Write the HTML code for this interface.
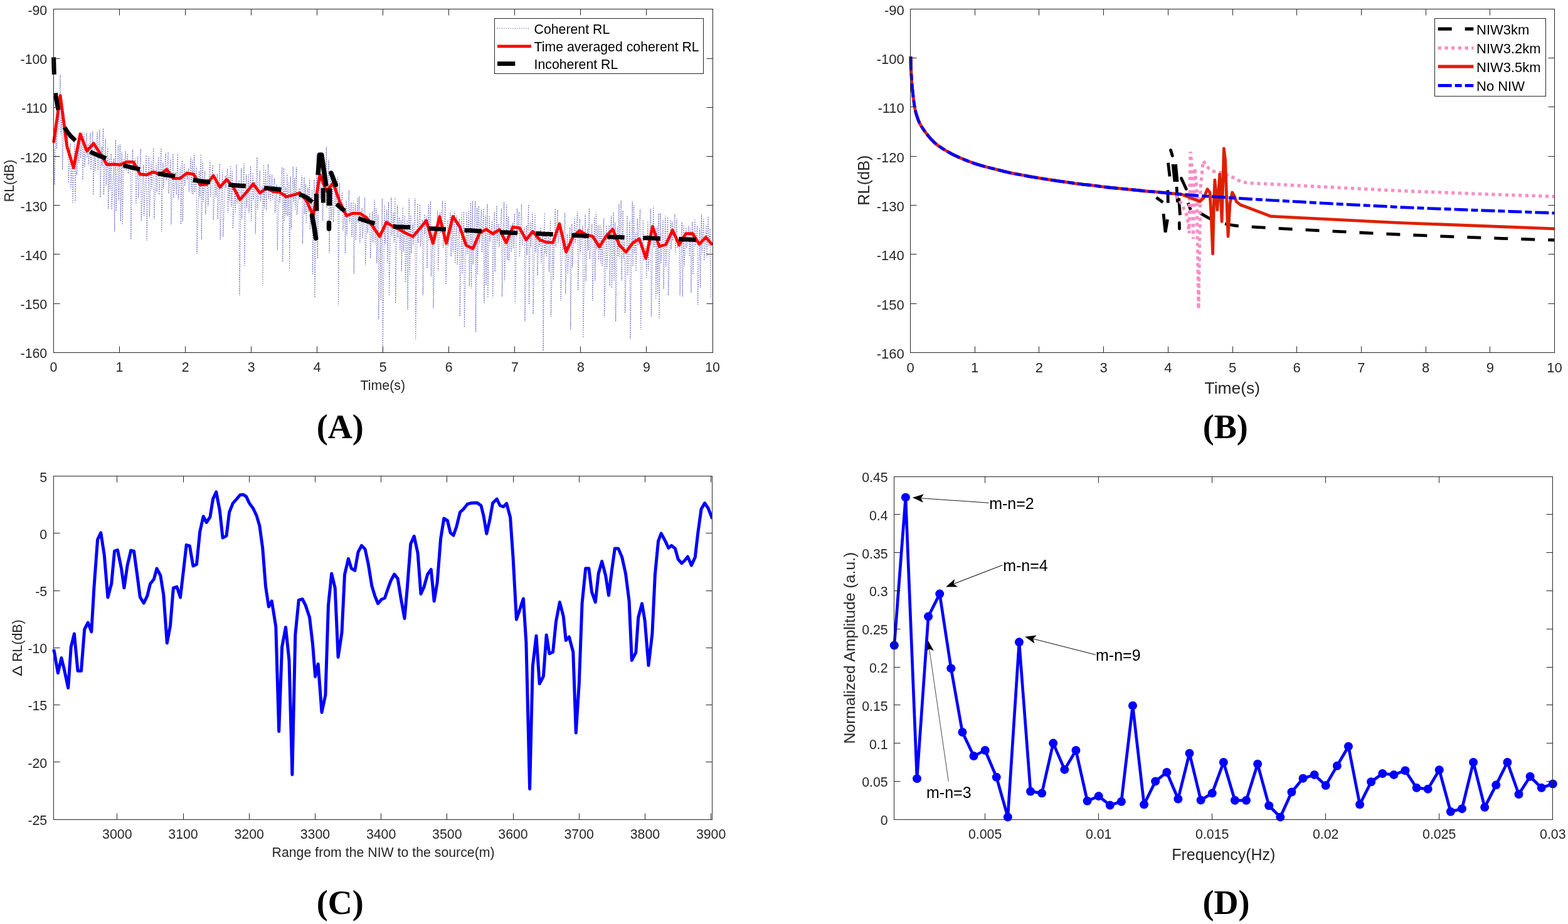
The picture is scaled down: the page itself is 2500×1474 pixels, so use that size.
<!DOCTYPE html><html><head><meta charset="utf-8"><title>Figure</title>
<style>html,body{margin:0;padding:0;background:#fff;}body{width:2500px;height:1474px;overflow:hidden;}svg{display:block;}</style>
</head><body>
<svg width="2500" height="1474" viewBox="0 0 2500 1474">
<rect width="2500" height="1474" fill="#fff"/>
<defs><clipPath id="clipA"><rect x="81.5" y="14.9" width="1054.5" height="547.4"/></clipPath></defs>
<g clip-path="url(#clipA)">
<polyline points="86.1,238.8 87,294.93 89.52,190.38 90.42,237.35 93.05,159.46 93.95,208.25 96.12,118.91 97.02,213.56 98.61,166.81 99.51,270.66 102.36,181.98 103.26,224 104.9,203.98 105.8,228.42 108.32,218.21 109.22,291.97 112.12,228.29 113.02,301.39 115.14,255.5 116.04,325 119.09,223.78 119.99,321 121.65,234.61 122.55,279.06 124.9,226.78 125.8,259.24 127.76,214.08 128.66,252.14 131.03,210.97 131.93,286.81 134.03,210.82 134.93,266.43 138.1,211.21 139,251.04 140.63,229.54 141.53,263.52 144.01,211.56 144.91,270.61 147.83,209.19 148.73,311 150.82,228.03 151.72,274.84 155.17,210.39 156.07,271.51 158.98,206.41 159.88,315 161.95,233.67 162.85,265.47 164.51,204.56 165.41,311 168.23,220.89 169.13,295.72 171.7,234.73 172.6,333.41 174.44,252.59 175.34,303.54 177.25,245.22 178.15,333.97 181.74,252.83 182.64,370 184.37,223.1 185.27,336.59 188.32,231.88 189.22,319.46 191.37,230.6 192.27,353 194.27,243.57 195.17,358.58 197.29,254.63 198.19,268.88 200.28,240.89 201.18,272.35 203.49,244.71 204.39,277.12 207.85,255.56 208.75,382 211.54,238.32 212.44,267.18 215.94,253.16 216.84,325.62 219.74,249.94 220.64,315.61 224.34,237.48 225.24,353 228.72,262.92 229.62,344.09 233.13,247.28 234.03,384 237.45,249.21 238.35,346.19 241.11,256.52 242.01,301.22 244.85,236.28 245.75,348.96 249.18,260.75 250.08,305.87 252.86,250.42 253.76,310.9 256.91,236.39 257.81,370 259.82,259.5 260.72,301.18 264.24,243.66 265.14,288.61 268.13,242.81 269.03,308.6 271.99,252.71 272.89,358.23 275.85,245.18 276.75,316.01 280.26,274.72 281.16,310.19 283.36,243.82 284.26,317.81 287.63,267.31 288.53,358 290.4,255.82 291.3,353 293.71,261.44 294.61,296.94 297.95,272.17 298.85,286.57 300.42,268.67 301.32,305.89 304.08,250.46 304.98,307.94 306.78,255.41 307.68,310.3 309.7,246.28 310.6,306.69 313.08,265.79 313.98,405 317.59,272.97 318.49,314.86 320.38,246.09 321.28,382 323.18,257.4 324.08,323.4 326.72,272.84 327.62,341.92 330.87,284.38 331.77,328.26 334.85,256.49 335.75,313.82 339.26,263.03 340.16,350.86 343.41,280.92 344.31,313.29 346.26,277.23 347.16,349.6 350.24,261.22 351.14,382.53 354.79,271.99 355.69,378 359.19,280.33 360.09,299.41 362.56,269.25 363.46,339.68 365.02,279.79 365.92,322.58 367.8,264.02 368.7,330.1 370.53,272.11 371.43,364.71 374.45,295.48 375.35,339.67 377.04,262.43 377.94,324.75 381.04,287.39 381.94,471 384.67,268.33 385.57,349.53 389.05,260.83 389.95,424 392.61,278.03 393.51,331.27 396.11,277.07 397.01,339.98 399.65,264.85 400.55,353.83 403.13,275.44 404.03,318.34 406.44,289.7 407.34,373.04 409.88,250.78 410.78,334.09 414.26,271.62 415.16,321.39 418.02,296.06 418.92,456 420.47,262.51 421.37,332.02 423.58,270.43 424.48,335.82 427.59,261.88 428.49,316.83 430.42,278.06 431.32,322.05 433.73,278.79 434.63,318.63 437.52,284.23 438.42,339.28 441.27,294.63 442.17,399 445.45,297.23 446.35,324.24 449.88,266.65 450.78,417.9 452.58,267.92 453.48,352.79 455.19,298.34 456.09,344.56 457.87,276.44 458.77,344.52 460.71,290.46 461.61,429 463.36,281.03 464.26,364.8 467.27,265.74 468.17,322.25 469.75,282.97 470.65,335.4 472.48,266.75 473.38,342.75 477.05,300.12 477.95,318.07 481.55,280.15 482.45,389 484.97,282.78 485.87,341.82 487.4,293.9 488.3,356.74 490.8,299.22 491.7,338.64 493.57,285.16 494.47,365.8 497.73,302.66 498.63,438.15 501.02,286.53 501.92,475 505.19,245.2 506.09,412.74 509.3,266.83 510.2,317.74 513.64,263.35 514.54,352.38 516.93,270.08 517.83,314.27 520.36,234.66 521.26,331.58 524.13,255.11 525.03,403 527.28,278.37 528.18,350.65 530.53,289.68 531.43,354.23 534.61,297.82 535.51,328.23 538.64,282.48 539.54,488 541.47,291.9 542.37,336.93 545.86,306.46 546.76,367.66 549.51,333.05 550.41,404.54 552.07,318.64 552.97,375.39 556.52,303.28 557.42,355.63 560.01,322.57 560.91,377.7 563.34,320.55 564.24,437 566.37,325.46 567.27,383.06 570.34,315.66 571.24,355.65 572.84,312.87 573.74,387.85 577.21,331.79 578.11,380.27 581.69,315.07 582.59,422.85 585.14,344.17 586.04,372.09 589.6,339.81 590.5,412 593.8,337.18 594.7,387.27 597.2,318.9 598.1,389.26 599.87,332.01 600.77,419.77 602.85,342 603.75,509 606.42,368.7 607.32,479.27 609.34,316.7 610.24,561 613.12,326.73 614.02,389.44 616.76,334.39 617.66,418.96 619.58,322.18 620.48,471.83 623.91,314.42 624.81,375.84 627.25,338.8 628.15,386.02 629.81,314.82 630.71,484 633.59,327.15 634.49,379.02 636.75,346.52 637.65,399.5 639.41,350.83 640.31,432.18 642.28,329.75 643.18,401.48 645.5,343.79 646.4,450.49 649.1,351.13 650,494 652.31,316.2 653.21,439.1 654.9,343.07 655.8,404.16 657.95,356.8 658.85,391.44 661.81,316.17 662.71,543 665.74,324.48 666.64,387.44 669.74,326.54 670.64,393.24 673.39,350.62 674.29,471 676.75,341.92 677.65,373.16 680.03,345.73 680.93,428.05 683.23,325.77 684.13,383.89 686.48,320.65 687.38,440.95 690.07,367.89 690.97,492 694.14,360.35 695.04,381.67 697.67,335.99 698.57,432.36 701.5,339.26 702.4,372.44 705.64,320.34 706.54,394.67 710.02,321.01 710.92,454 714.06,351.08 714.96,392.72 718.14,336.28 719.04,409.39 721.28,344.64 722.18,401.17 724.87,336.9 725.77,420.62 728.17,343.86 729.07,422.8 732.34,348.65 733.24,505 736.15,339.53 737.05,437.03 739.48,337.28 740.38,522 744.06,338.08 744.96,406.05 747.39,333.56 748.29,457.04 750.47,322.99 751.37,459.85 753.27,320.75 754.17,421.78 757.67,320.51 758.57,530 760.55,331.15 761.45,438.19 763.44,328.41 764.34,387.89 767.5,334.22 768.4,402.82 770.96,332.58 771.86,483.15 774.11,343.64 775.01,455.41 777,325.13 777.9,475.07 780.25,343.81 781.15,385.4 784.82,350.99 785.72,475 788.26,337.55 789.16,433.46 792,328.05 792.9,386.66 794.97,356.9 795.87,394.24 799.55,332.61 800.45,473 803.65,322.04 804.55,448.53 807.86,325.66 808.76,414.82 810.47,344.97 811.37,415.88 814.16,358.92 815.06,402.27 817.48,355.41 818.38,395.63 820.34,340.74 821.24,484 824.57,332.29 825.47,373.53 827.64,338.22 828.54,409.81 831.55,325.61 832.45,391.38 836.08,362.76 836.98,513 839.31,359.81 840.21,406.99 842.72,326.11 843.62,485.73 845.57,352.11 846.47,393.44 849.16,339 850.06,501 853.02,340.07 853.92,403.46 856.15,370.57 857.05,439.92 859.28,368.42 860.18,393.41 861.89,362.58 862.79,421 865.17,371.03 866.07,560 868.07,339.5 868.97,405.56 870.63,376.89 871.53,409.71 874.45,369.09 875.35,434.05 877.58,351.21 878.48,505 881.52,380.29 882.42,446.37 885.26,332.92 886.16,394.29 889.09,334.73 889.99,388.4 893.23,354.18 894.13,480 897.31,370.48 898.21,398.3 900.82,339.3 901.72,468.94 904.35,373.54 905.25,436.87 908.83,363.06 909.73,526 911.77,357.48 912.67,426.66 916.21,345.92 917.11,387.39 920.75,336.87 921.65,463.61 924.39,349.63 925.29,403.56 928.97,360.31 929.87,539 933.18,341.42 934.08,448.29 936.85,363.53 937.75,399.61 939.41,332.03 940.31,413.39 943.88,356.89 944.78,480 947.9,346.28 948.8,447.87 950.34,338.41 951.24,397.84 953.59,358.87 954.49,414.29 956.57,359.14 957.47,419.62 959.05,362.79 959.95,425.2 962.77,348.32 963.67,505 966.69,359.22 967.59,428.36 971.28,359.24 972.18,456.16 974.63,344.57 975.53,459.6 978.19,338.59 979.09,448.14 980.71,354.97 981.61,513 984.42,361.63 985.32,409.45 986.98,324.85 987.88,412.77 990.25,319.8 991.15,447.49 993.17,335.84 994.07,412.03 995.73,383.83 996.63,499.64 1000.03,343.75 1000.93,439.5 1004.07,352.57 1004.97,541 1008.22,320.73 1009.12,424.94 1010.62,327.83 1011.52,404.27 1013.16,370.47 1014.06,432.76 1016.34,348.61 1017.24,391.74 1020.72,333.59 1021.62,526 1025.27,350.44 1026.17,415.37 1029.7,393.36 1030.6,444.67 1032.88,352.52 1033.78,432.16 1037.47,333.21 1038.37,505 1041.8,328.48 1042.7,394.89 1044.89,365.28 1045.79,477.19 1047.59,361.49 1048.49,469.22 1050.16,340.74 1051.06,509 1052.99,339.85 1053.89,420.49 1057.13,350.75 1058.03,461.14 1060.83,344.37 1061.73,426.06 1064.7,346.36 1065.6,471 1069.26,350.84 1070.16,397.73 1071.76,353.73 1072.66,383.96 1075.93,341.13 1076.83,405.86 1078.87,348.73 1079.77,395.33 1083.24,384.66 1084.14,471 1087.29,354.12 1088.19,473.33 1090.09,358.79 1090.99,424.73 1093.94,362.96 1094.84,395.77 1098.2,360.31 1099.1,409.15 1100.98,363.21 1101.88,467 1103.9,353.7 1104.8,438 1108.04,349.12 1108.94,393.33 1111.71,359.87 1112.61,486 1115.69,364.5 1116.59,459.19 1118.42,342.02 1119.32,406.67 1121.79,349.73 1122.69,415.49 1126.19,359.57 1127.09,411.27 1129.11,345.2 1130.01,392.15 1132.2,364.91 1133.1,475" fill="none" stroke="#4040b6" stroke-width="1.05" stroke-dasharray="1.2 2.35"/>
<polyline points="85.5,227.6 96.11,152.3 106.72,233.5 117.33,267.5 127.94,213.8 138.56,241.2 149.17,228.6 159.78,245 170.39,262.5 181,262 191.61,262.9 202.22,258.2 212.83,258.7 223.44,278 234.06,278.8 244.67,274.2 255.28,278 265.89,270.4 276.5,284.7 287.11,284.7 297.72,276.3 308.33,277.6 318.94,294.8 329.56,294 340.17,280.1 350.78,298.6 361.39,286.4 372,298.6 382.61,318.5 393.22,306.5 403.83,293.3 414.44,307.9 425.06,300 435.67,305.5 446.28,306.9 456.89,314 467.5,311 478.11,307.9 488.72,320.1 499.33,344 509.94,278.9 520.56,304.9 531.17,291.9 541.78,322.3 552.39,344 563,340.3 573.61,340.3 584.22,347.1 594.83,362 605.44,377.3 616.06,354.6 626.67,361.5 637.28,366.4 647.89,372.3 658.5,377.3 669.11,364.7 679.72,352.1 690.33,388.2 700.94,345.8 711.56,388.2 722.17,345.4 732.78,361.3 743.39,391.6 754,396.6 764.61,372 775.22,365.8 785.83,372.9 796.44,366.2 807.06,387.2 817.67,362.4 828.28,363.7 838.89,382.6 849.5,369.2 860.11,382.2 870.72,386.4 881.33,387.2 891.94,357 902.56,401.9 913.17,378.8 923.78,367.9 934.39,374.6 945,377.1 955.61,393.9 966.22,377 976.83,365.7 987.44,390.8 998.06,402.2 1008.67,387.8 1019.28,380.9 1029.89,412.1 1040.5,361.2 1051.11,393.1 1061.72,390 1072.33,367.2 1082.94,390.8 1093.56,372.6 1104.17,372.6 1114.78,389.3 1125.39,378.6 1136,390.8" fill="none" stroke="#ff0000" stroke-width="4.8" stroke-linejoin="round"/>
<polyline points="85.6,91.4 85.72,96.2 85.88,103.14 86.08,110.6 86.3,117 86.55,121.9 86.82,126.16 87.12,130.09 87.4,134 87.65,137.91 87.89,141.69 88.15,145.37 88.5,149 88.95,152.64 89.48,156.25 90.04,159.73 90.6,163 91.1,165.84 91.57,168.38 92.11,170.97 92.8,174 93.66,177.7 94.63,181.81 95.74,186.02 97,190 98.44,193.71 100.04,197.31 101.75,200.76 103.5,204 105.26,206.99 107.06,209.78 108.95,212.42 111,215 113.21,217.49 115.56,219.87 118.02,222.21 120.6,224.6 123.29,227.1 126.1,229.66 129.01,232.16 132,234.5 135.12,236.67 138.35,238.72 141.61,240.63 144.8,242.4 147.9,243.99 150.95,245.42 153.98,246.74 157,248 159.97,249.14 162.89,250.17 165.86,251.21 169,252.4 172.33,253.82 175.8,255.38 179.37,256.98 183,258.5 186.77,259.96 190.68,261.41 194.54,262.78 198.2,264 201.55,265.03 204.71,265.92 207.81,266.72 211,267.5 214.3,268.24 217.64,268.92 221.04,269.59 224.5,270.3 228.06,271.06 231.71,271.85 235.38,272.66 239,273.5 242.56,274.4 246.09,275.35 249.6,276.28 253.1,277.1 256.59,277.8 260.07,278.41 263.54,278.97 267,279.5 270.45,279.96 273.88,280.35 277.32,280.77 280.8,281.3 284.34,282.01 287.91,282.84 291.48,283.7 295,284.5 298.45,285.23 301.85,285.93 305.23,286.59 308.6,287.2 311.94,287.76 315.26,288.28 318.59,288.76 322,289.2 325.5,289.57 329.07,289.89 332.68,290.21 336.3,290.6 339.95,291.1 343.63,291.66 347.32,292.25 351,292.8 354.68,293.33 358.38,293.86 362.05,294.36 365.7,294.8 369.33,295.16 372.94,295.46 376.51,295.73 380,296 383.34,296.25 386.57,296.48 389.81,296.71 393.2,297 396.77,297.36 400.44,297.77 404.2,298.2 408,298.6 411.92,298.97 415.94,299.32 419.92,299.66 423.7,300 427.2,300.32 430.52,300.63 433.75,300.95 437,301.3 440.22,301.65 443.39,302.01 446.62,302.44 450,303 453.66,303.74 457.5,304.61 461.34,305.55 465,306.5 468.46,307.44 471.81,308.41 475.01,309.4 478,310.4 480.71,311.32 483.19,312.19 485.57,313.2 488,314.5 490.73,316.41 493.62,318.76 496.2,320.97 498,322.5" fill="none" stroke="#000" stroke-width="7" stroke-dasharray="27.5 29.5" stroke-dashoffset="0"/>
<polyline points="549.5,332.3 551.38,333.91 554.06,336.22 557.09,338.75 560,341 562.67,342.91 565.34,344.71 568.1,346.38 571,347.9 574.11,349.23 577.38,350.39 580.7,351.46 584,352.5 587.23,353.53 590.44,354.5 593.68,355.43 597,356.3 600.42,357.13 603.9,357.91 607.43,358.64 611,359.3 614.31,359.89 617.47,360.41 621.04,360.88 625.6,361.3 631.47,361.64 638.3,361.9 645.6,362.16 652.9,362.5 660.22,362.96 667.77,363.5 675.33,364.04 682.7,364.5 689.75,364.85 696.63,365.13 703.48,365.4 710.5,365.7 717.84,366.06 725.36,366.44 732.81,366.83 739.9,367.2 746.34,367.53 752.34,367.82 758.43,368.14 765.1,368.5 772.71,368.95 780.92,369.45 789.19,369.95 797,370.4 804.09,370.78 810.78,371.11 817.41,371.42 824.3,371.7 831.63,371.95 839.2,372.16 846.77,372.36 854.1,372.6 861.06,372.87 867.8,373.17 874.51,373.48 881.4,373.8 888.55,374.14 895.84,374.49 903.17,374.85 910.4,375.2 917.47,375.53 924.46,375.86 931.47,376.18 938.6,376.5 945.94,376.83 953.43,377.17 960.89,377.5 968.2,377.8 975.24,378.06 982.13,378.28 988.99,378.49 996,378.7 1003.23,378.9 1010.6,379.09 1017.97,379.29 1025.2,379.5 1032.22,379.74 1039.1,379.99 1045.98,380.25 1053,380.5 1060.24,380.75 1067.62,381.01 1074.99,381.26 1082.2,381.5 1089.2,381.73 1096.07,381.96 1102.86,382.18 1109.6,382.4 1116.89,382.65 1124.51,382.91 1131.28,383.14 1136,383.3" fill="none" stroke="#000" stroke-width="7" stroke-dasharray="27.5 29.5" stroke-dashoffset="29.93"/>
<polyline points="497.5,343.5 501.2,364 503.6,380" fill="none" stroke="#000" stroke-width="7.5" stroke-linecap="round" stroke-linejoin="round"/>
<polyline points="504.9,336.5 504.4,309" fill="none" stroke="#000" stroke-width="7" stroke-linecap="butt" stroke-linejoin="round"/>
<polyline points="507,279 509.6,247 512.8,247 520,297" fill="none" stroke="#000" stroke-width="7.5" stroke-linecap="butt" stroke-linejoin="round"/>
<polyline points="509.5,262 511,248" fill="none" stroke="#000" stroke-width="9" stroke-linecap="butt" stroke-linejoin="round"/>
<polyline points="515.2,300 515.4,323.5" fill="none" stroke="#000" stroke-width="7" stroke-linecap="butt" stroke-linejoin="round"/>
<polyline points="524.9,300.5 525,328" fill="none" stroke="#000" stroke-width="9" stroke-linecap="butt" stroke-linejoin="round"/>
<polyline points="524.5,355.5 524.5,365" fill="none" stroke="#000" stroke-width="7.5" stroke-linecap="round" stroke-linejoin="round"/>
<polyline points="528,276 535.2,295" fill="none" stroke="#000" stroke-width="7.5" stroke-linecap="round" stroke-linejoin="round"/>
<polyline points="536.5,325.5 549.5,336.5" fill="none" stroke="#000" stroke-width="7" stroke-linecap="butt" stroke-linejoin="round"/>
</g>
<rect x="85.5" y="14.5" width="1051" height="548" fill="none" stroke="#262626" stroke-width="1"/>
<path d="M190.5 562.5V552.5M190.5 14.5V24.5M295.5 562.5V552.5M295.5 14.5V24.5M400.5 562.5V552.5M400.5 14.5V24.5M505.5 562.5V552.5M505.5 14.5V24.5M610.5 562.5V552.5M610.5 14.5V24.5M715.5 562.5V552.5M715.5 14.5V24.5M820.5 562.5V552.5M820.5 14.5V24.5M925.5 562.5V552.5M925.5 14.5V24.5M1030.5 562.5V552.5M1030.5 14.5V24.5M85.5 93.5H95.5M1136.5 93.5H1126.5M85.5 171.5H95.5M1136.5 171.5H1126.5M85.5 249.5H95.5M1136.5 249.5H1126.5M85.5 327.5H95.5M1136.5 327.5H1126.5M85.5 405.5H95.5M1136.5 405.5H1126.5M85.5 484.5H95.5M1136.5 484.5H1126.5" stroke="#262626" stroke-width="1" fill="none"/>
<text x="85.5" y="593.3" font-size="21.3" text-anchor="middle" font-family="'Liberation Sans', Arial, sans-serif" font-weight="normal" fill="#262626">0</text>
<text x="190.55" y="593.3" font-size="21.3" text-anchor="middle" font-family="'Liberation Sans', Arial, sans-serif" font-weight="normal" fill="#262626">1</text>
<text x="295.6" y="593.3" font-size="21.3" text-anchor="middle" font-family="'Liberation Sans', Arial, sans-serif" font-weight="normal" fill="#262626">2</text>
<text x="400.65" y="593.3" font-size="21.3" text-anchor="middle" font-family="'Liberation Sans', Arial, sans-serif" font-weight="normal" fill="#262626">3</text>
<text x="505.7" y="593.3" font-size="21.3" text-anchor="middle" font-family="'Liberation Sans', Arial, sans-serif" font-weight="normal" fill="#262626">4</text>
<text x="610.75" y="593.3" font-size="21.3" text-anchor="middle" font-family="'Liberation Sans', Arial, sans-serif" font-weight="normal" fill="#262626">5</text>
<text x="715.8" y="593.3" font-size="21.3" text-anchor="middle" font-family="'Liberation Sans', Arial, sans-serif" font-weight="normal" fill="#262626">6</text>
<text x="820.85" y="593.3" font-size="21.3" text-anchor="middle" font-family="'Liberation Sans', Arial, sans-serif" font-weight="normal" fill="#262626">7</text>
<text x="925.9" y="593.3" font-size="21.3" text-anchor="middle" font-family="'Liberation Sans', Arial, sans-serif" font-weight="normal" fill="#262626">8</text>
<text x="1030.95" y="593.3" font-size="21.3" text-anchor="middle" font-family="'Liberation Sans', Arial, sans-serif" font-weight="normal" fill="#262626">9</text>
<text x="1136" y="593.3" font-size="21.3" text-anchor="middle" font-family="'Liberation Sans', Arial, sans-serif" font-weight="normal" fill="#262626">10</text>
<text x="75.2" y="24" font-size="21.3" text-anchor="end" font-family="'Liberation Sans', Arial, sans-serif" font-weight="normal" fill="#262626">-90</text>
<text x="75.2" y="102.2" font-size="21.3" text-anchor="end" font-family="'Liberation Sans', Arial, sans-serif" font-weight="normal" fill="#262626">-100</text>
<text x="75.2" y="180.4" font-size="21.3" text-anchor="end" font-family="'Liberation Sans', Arial, sans-serif" font-weight="normal" fill="#262626">-110</text>
<text x="75.2" y="258.6" font-size="21.3" text-anchor="end" font-family="'Liberation Sans', Arial, sans-serif" font-weight="normal" fill="#262626">-120</text>
<text x="75.2" y="336.8" font-size="21.3" text-anchor="end" font-family="'Liberation Sans', Arial, sans-serif" font-weight="normal" fill="#262626">-130</text>
<text x="75.2" y="415" font-size="21.3" text-anchor="end" font-family="'Liberation Sans', Arial, sans-serif" font-weight="normal" fill="#262626">-140</text>
<text x="75.2" y="493.2" font-size="21.3" text-anchor="end" font-family="'Liberation Sans', Arial, sans-serif" font-weight="normal" fill="#262626">-150</text>
<text x="75.2" y="571.4" font-size="21.3" text-anchor="end" font-family="'Liberation Sans', Arial, sans-serif" font-weight="normal" fill="#262626">-160</text>
<text x="610.3" y="622.4" font-size="21.3" text-anchor="middle" font-family="'Liberation Sans', Arial, sans-serif" font-weight="normal" fill="#262626">Time(s)</text>
<text x="22.2" y="288.4" font-size="21.3" text-anchor="middle" font-family="'Liberation Sans', Arial, sans-serif" font-weight="normal" fill="#262626" transform="rotate(-90 22.2 288.4)">RL(dB)</text>
<rect x="788.5" y="29.5" width="333" height="88" fill="#fff" stroke="#262626" stroke-width="1"/>
<line x1="792.8" y1="45.3" x2="844.8" y2="45.3" stroke="#4040b6" stroke-width="1.1" stroke-dasharray="1.2 2.3"/>
<line x1="793" y1="73.8" x2="847" y2="73.8" stroke="#ff0000" stroke-width="4.8"/>
<line x1="793" y1="101.6" x2="821.3" y2="101.6" stroke="#000" stroke-width="7"/>
<text x="851.5" y="53.6" font-size="21.3" text-anchor="start" font-family="'Liberation Sans', Arial, sans-serif" font-weight="normal" fill="#000">Coherent RL</text>
<text x="851.5" y="82.4" font-size="21.3" text-anchor="start" font-family="'Liberation Sans', Arial, sans-serif" font-weight="normal" fill="#000">Time averaged coherent RL</text>
<text x="851.5" y="110.4" font-size="21.3" text-anchor="start" font-family="'Liberation Sans', Arial, sans-serif" font-weight="normal" fill="#000">Incoherent RL</text>
<defs><clipPath id="clipB"><rect x="1447.5" y="10.2" width="1035" height="556.3"/></clipPath></defs>
<g clip-path="url(#clipB)">
<polyline points="1452.1,90.3 1452.12,92.49 1452.15,95.63 1452.18,99.23 1452.23,102.85 1452.3,106 1452.39,108.6 1452.5,110.97 1452.62,113.23 1452.75,115.53 1452.9,118 1453.06,120.69 1453.22,123.5 1453.4,126.38 1453.6,129.23 1453.8,132 1454.02,134.68 1454.25,137.32 1454.49,139.93 1454.74,142.49 1455,145 1455.25,147.38 1455.5,149.63 1455.77,151.88 1456.06,154.26 1456.4,156.9 1456.78,159.9 1457.18,163.18 1457.63,166.58 1458.13,169.94 1458.7,173.1 1459.35,176.06 1460.06,178.93 1460.83,181.71 1461.65,184.4 1462.5,187 1463.35,189.46 1464.19,191.76 1465.1,194.01 1466.15,196.29 1467.4,198.7 1468.93,201.3 1470.68,204.04 1472.56,206.8 1474.47,209.49 1476.3,212 1478.04,214.3 1479.74,216.47 1481.45,218.54 1483.19,220.53 1485,222.5 1486.83,224.41 1488.65,226.25 1490.54,228.04 1492.57,229.82 1494.8,231.6 1497.34,233.43 1500.15,235.3 1503.06,237.14 1505.93,238.89 1508.6,240.5 1511.02,241.94 1513.28,243.24 1515.48,244.45 1517.69,245.62 1520,246.8 1522.37,247.97 1524.75,249.1 1527.19,250.22 1529.72,251.34 1532.4,252.5 1535.31,253.72 1538.41,255 1541.59,256.28 1544.69,257.5 1547.6,258.6 1550.25,259.57 1552.72,260.44 1555.12,261.25 1557.51,262.02 1560,262.8 1562.55,263.57 1565.11,264.31 1567.71,265.04 1570.39,265.76 1573.2,266.5 1576.22,267.26 1579.43,268.04 1582.69,268.82 1585.86,269.58 1588.8,270.3 1591.43,270.98 1593.84,271.63 1596.15,272.26 1598.5,272.88 1601,273.5 1603.66,274.13 1606.38,274.76 1609.18,275.38 1612.06,275.99 1615,276.6 1618.1,277.2 1621.36,277.8 1624.65,278.39 1627.84,278.96 1630.8,279.5 1633.44,280 1635.83,280.46 1638.13,280.9 1640.48,281.34 1643,281.8 1645.72,282.27 1648.54,282.75 1651.45,283.23 1654.41,283.71 1657.4,284.2 1660.48,284.7 1663.68,285.22 1666.89,285.74 1670.03,286.24 1673,286.7 1675.76,287.12 1678.36,287.5 1680.88,287.87 1683.4,288.23 1686,288.6 1688.64,288.97 1691.28,289.34 1693.95,289.71 1696.71,290.09 1699.6,290.5 1702.72,290.95 1706.04,291.43 1709.41,291.92 1712.68,292.38 1715.7,292.8 1718.37,293.15 1720.8,293.46 1723.12,293.74 1725.47,294.01 1728,294.3 1730.7,294.59 1733.48,294.87 1736.35,295.16 1739.29,295.46 1742.3,295.8 1745.48,296.19 1748.82,296.63 1752.2,297.07 1755.47,297.51 1758.5,297.9 1761.21,298.24 1763.69,298.55 1766.07,298.84 1768.46,299.12 1771,299.4 1773.67,299.67 1776.39,299.92 1779.17,300.17 1782.04,300.42 1785,300.7 1788.14,301 1791.44,301.33 1794.79,301.66 1798.08,301.99 1801.2,302.3 1804.13,302.59 1806.94,302.88 1809.67,303.16 1812.34,303.43 1815,303.7 1817.59,303.97 1820.08,304.23 1822.56,304.49 1825.1,304.75 1827.8,305 1830.66,305.24 1833.62,305.47 1836.68,305.7 1839.81,305.94" fill="none" stroke="#000" stroke-width="4.8" stroke-dasharray="22 21"/>
<polyline points="1843.5,315 1854.3,322.7" fill="none" stroke="#000" stroke-width="4.8" stroke-linecap="butt"/>
<polyline points="1855,341 1858,370.5 1861.5,350" fill="none" stroke="#000" stroke-width="4.8" stroke-linecap="butt"/>
<polyline points="1861.9,303.2 1862.3,323.8" fill="none" stroke="#000" stroke-width="4.8" stroke-linecap="butt"/>
<polyline points="1862.5,259.7 1865,281.5" fill="none" stroke="#000" stroke-width="4.8" stroke-linecap="butt"/>
<polyline points="1866.5,239.5 1869.3,248.5" fill="none" stroke="#000" stroke-width="4.8" stroke-linecap="round"/>
<polyline points="1870,262 1873,290" fill="none" stroke="#000" stroke-width="4.8" stroke-linecap="butt"/>
<polyline points="1874.5,262 1877,290" fill="none" stroke="#000" stroke-width="4.8" stroke-linecap="butt"/>
<polyline points="1876,298 1877.5,322.7" fill="none" stroke="#000" stroke-width="4.8" stroke-linecap="butt"/>
<polyline points="1879.5,316.2 1881.5,343.3" fill="none" stroke="#000" stroke-width="4.8" stroke-linecap="butt"/>
<polyline points="1880.3,355.5 1880.5,365" fill="none" stroke="#000" stroke-width="4.8" stroke-linecap="round"/>
<polyline points="1883.5,284.5 1891.3,301.5" fill="none" stroke="#000" stroke-width="4.8" stroke-linecap="round"/>
<polyline points="1894.3,323.6 1898.3,334.8" fill="none" stroke="#000" stroke-width="4.8" stroke-linecap="butt"/>
<polyline points="1900,334 1902.26,334.94 1905.48,336.26 1909.24,337.87 1913.1,339.7 1916.96,341.85 1921.04,344.33 1925.43,346.87 1930.2,349.2 1935.54,351.33 1941.36,353.37 1947.3,355.23 1953,356.8 1958.34,358.03 1963.51,358.99 1968.66,359.75 1973.9,360.4 1979.28,360.9 1984.74,361.24 1990.22,361.5 1995.7,361.8 1999.75,362.08 2002.86,362.31 2007.87,362.64 2017.6,363.2 2032.83,364.04 2052.04,365.09 2074.64,366.29 2100,367.6 2129.15,369.09 2162.03,370.75 2196.38,372.44 2230,374 2262.77,375.42 2295.71,376.76 2328.3,378.03 2360,379.2 2393.23,380.34 2427.43,381.42 2457.56,382.35 2478.6,383" fill="none" stroke="#000" stroke-width="4.8" stroke-dasharray="22 21" stroke-dashoffset="28.01"/>
<polyline points="1452.1,90.3 1452.12,92.49 1452.15,95.63 1452.18,99.23 1452.23,102.85 1452.3,106 1452.39,108.6 1452.5,110.97 1452.62,113.23 1452.75,115.53 1452.9,118 1453.06,120.69 1453.22,123.5 1453.4,126.38 1453.6,129.23 1453.8,132 1454.02,134.68 1454.25,137.32 1454.49,139.93 1454.74,142.49 1455,145 1455.25,147.38 1455.5,149.63 1455.77,151.88 1456.06,154.26 1456.4,156.9 1456.78,159.9 1457.18,163.18 1457.63,166.58 1458.13,169.94 1458.7,173.1 1459.35,176.06 1460.06,178.93 1460.83,181.71 1461.65,184.4 1462.5,187 1463.35,189.46 1464.19,191.76 1465.1,194.01 1466.15,196.29 1467.4,198.7 1468.93,201.3 1470.68,204.04 1472.56,206.8 1474.47,209.49 1476.3,212 1478.04,214.3 1479.74,216.47 1481.45,218.54 1483.19,220.53 1485,222.5 1486.83,224.41 1488.65,226.25 1490.54,228.04 1492.57,229.82 1494.8,231.6 1497.34,233.43 1500.15,235.3 1503.06,237.14 1505.93,238.89 1508.6,240.5 1511.02,241.94 1513.28,243.24 1515.48,244.45 1517.69,245.62 1520,246.8 1522.37,247.97 1524.75,249.1 1527.19,250.22 1529.72,251.34 1532.4,252.5 1535.31,253.72 1538.41,255 1541.59,256.28 1544.69,257.5 1547.6,258.6 1550.25,259.57 1552.72,260.44 1555.12,261.25 1557.51,262.02 1560,262.8 1562.55,263.57 1565.11,264.31 1567.71,265.04 1570.39,265.76 1573.2,266.5 1576.22,267.26 1579.43,268.04 1582.69,268.82 1585.86,269.58 1588.8,270.3 1591.43,270.98 1593.84,271.63 1596.15,272.26 1598.5,272.88 1601,273.5 1603.66,274.13 1606.38,274.76 1609.18,275.38 1612.06,275.99 1615,276.6 1618.1,277.2 1621.36,277.8 1624.65,278.39 1627.84,278.96 1630.8,279.5 1633.44,280 1635.83,280.46 1638.13,280.9 1640.48,281.34 1643,281.8 1645.72,282.27 1648.54,282.75 1651.45,283.23 1654.41,283.71 1657.4,284.2 1660.48,284.7 1663.68,285.22 1666.89,285.74 1670.03,286.24 1673,286.7 1675.76,287.12 1678.36,287.5 1680.88,287.87 1683.4,288.23 1686,288.6 1688.64,288.97 1691.28,289.34 1693.95,289.71 1696.71,290.09 1699.6,290.5 1702.72,290.95 1706.04,291.43 1709.41,291.92 1712.68,292.38 1715.7,292.8 1718.37,293.15 1720.8,293.46 1723.12,293.74 1725.47,294.01 1728,294.3 1730.7,294.59 1733.48,294.87 1736.35,295.16 1739.29,295.46 1742.3,295.8 1745.48,296.19 1748.82,296.63 1752.2,297.07 1755.47,297.51 1758.5,297.9 1761.21,298.24 1763.69,298.55 1766.07,298.84 1768.46,299.12 1771,299.4 1773.67,299.67 1776.39,299.92 1779.17,300.17 1782.04,300.42 1785,300.7 1788.14,301 1791.44,301.33 1794.79,301.66 1798.08,301.99 1801.2,302.3 1804.13,302.59 1806.94,302.88 1809.67,303.16 1812.34,303.43 1815,303.7 1817.59,303.97 1820.08,304.23 1822.56,304.49 1825.1,304.75 1827.8,305 1830.66,305.24 1833.62,305.47 1836.68,305.7 1839.81,305.94 1843,306.2 1846.24,306.49 1849.53,306.8 1852.9,307.12 1856.38,307.45 1860,307.8 1863.81,308.17 1867.78,308.55 1871.86,308.95 1880,318 1886,330 1893,345 1896,372 1898,242 1900,262 1902.5,381 1905,268 1908,300 1911,493 1914,300 1918.4,256.7 1918.4,256.7 1920.45,259.57 1923.36,263.75 1926.77,268.05 1930.3,271.3 1933.88,272.95 1937.7,273.72 1941.77,274.27 1946.1,275.3 1950.81,277 1955.85,279.01 1960.99,281.14 1966,283.2 1970.2,285.27 1973.93,287.42 1978.44,289.4 1985,291 1993.84,292.03 2004.31,292.65 2016.38,293.15 2030,293.8 2045.98,294.7 2064.06,295.69 2082.62,296.68 2100,297.6 2115.4,298.39 2129.81,299.1 2144.32,299.81 2160,300.6 2177.78,301.53 2196.88,302.56 2215.78,303.55 2233,304.4 2247.86,305.04 2261.25,305.56 2274.02,306.01 2287,306.5 2300.3,307.02 2313.5,307.55 2326.7,308.08 2340,308.6 2353.45,309.13 2367,309.68 2380.55,310.2 2394,310.7 2407.82,311.17 2421.9,311.61 2435.28,312.03 2447,312.4 2457.15,312.74 2466.11,313.06 2473.42,313.32 2478.6,313.5" fill="none" stroke="#f78fc6" stroke-width="5.2" stroke-dasharray="5.3 5.4"/>
<polyline points="1452.1,90.3 1452.12,92.49 1452.15,95.63 1452.18,99.23 1452.23,102.85 1452.3,106 1452.39,108.6 1452.5,110.97 1452.62,113.23 1452.75,115.53 1452.9,118 1453.06,120.69 1453.22,123.5 1453.4,126.38 1453.6,129.23 1453.8,132 1454.02,134.68 1454.25,137.32 1454.49,139.93 1454.74,142.49 1455,145 1455.25,147.38 1455.5,149.63 1455.77,151.88 1456.06,154.26 1456.4,156.9 1456.78,159.9 1457.18,163.18 1457.63,166.58 1458.13,169.94 1458.7,173.1 1459.35,176.06 1460.06,178.93 1460.83,181.71 1461.65,184.4 1462.5,187 1463.35,189.46 1464.19,191.76 1465.1,194.01 1466.15,196.29 1467.4,198.7 1468.93,201.3 1470.68,204.04 1472.56,206.8 1474.47,209.49 1476.3,212 1478.04,214.3 1479.74,216.47 1481.45,218.54 1483.19,220.53 1485,222.5 1486.83,224.41 1488.65,226.25 1490.54,228.04 1492.57,229.82 1494.8,231.6 1497.34,233.43 1500.15,235.3 1503.06,237.14 1505.93,238.89 1508.6,240.5 1511.02,241.94 1513.28,243.24 1515.48,244.45 1517.69,245.62 1520,246.8 1522.37,247.97 1524.75,249.1 1527.19,250.22 1529.72,251.34 1532.4,252.5 1535.31,253.72 1538.41,255 1541.59,256.28 1544.69,257.5 1547.6,258.6 1550.25,259.57 1552.72,260.44 1555.12,261.25 1557.51,262.02 1560,262.8 1562.55,263.57 1565.11,264.31 1567.71,265.04 1570.39,265.76 1573.2,266.5 1576.22,267.26 1579.43,268.04 1582.69,268.82 1585.86,269.58 1588.8,270.3 1591.43,270.98 1593.84,271.63 1596.15,272.26 1598.5,272.88 1601,273.5 1603.66,274.13 1606.38,274.76 1609.18,275.38 1612.06,275.99 1615,276.6 1618.1,277.2 1621.36,277.8 1624.65,278.39 1627.84,278.96 1630.8,279.5 1633.44,280 1635.83,280.46 1638.13,280.9 1640.48,281.34 1643,281.8 1645.72,282.27 1648.54,282.75 1651.45,283.23 1654.41,283.71 1657.4,284.2 1660.48,284.7 1663.68,285.22 1666.89,285.74 1670.03,286.24 1673,286.7 1675.76,287.12 1678.36,287.5 1680.88,287.87 1683.4,288.23 1686,288.6 1688.64,288.97 1691.28,289.34 1693.95,289.71 1696.71,290.09 1699.6,290.5 1702.72,290.95 1706.04,291.43 1709.41,291.92 1712.68,292.38 1715.7,292.8 1718.37,293.15 1720.8,293.46 1723.12,293.74 1725.47,294.01 1728,294.3 1730.7,294.59 1733.48,294.87 1736.35,295.16 1739.29,295.46 1742.3,295.8 1745.48,296.19 1748.82,296.63 1752.2,297.07 1755.47,297.51 1758.5,297.9 1761.21,298.24 1763.69,298.55 1766.07,298.84 1768.46,299.12 1771,299.4 1773.67,299.67 1776.39,299.92 1779.17,300.17 1782.04,300.42 1785,300.7 1788.14,301 1791.44,301.33 1794.79,301.66 1798.08,301.99 1801.2,302.3 1804.13,302.59 1806.94,302.88 1809.67,303.16 1812.34,303.43 1815,303.7 1817.59,303.97 1820.08,304.23 1822.56,304.49 1825.1,304.75 1827.8,305 1830.66,305.24 1833.62,305.47 1836.68,305.7 1839.81,305.94 1843,306.2 1846.24,306.49 1849.53,306.8 1852.9,307.12 1856.38,307.45 1860,307.8 1863.81,308.17 1867.78,308.55 1871.86,308.95 1875.95,309.33 1880,309.7 1884,310.04 1899.8,316.3 1913,321.6 1919.7,315 1925,301.7 1928.9,307 1931,340 1933.6,404.9 1935.5,320 1936.9,287.2 1938.5,305 1940.8,334.8 1944.8,277.9 1948.1,353.3 1951.4,236.9 1953.5,255 1955.5,310 1958,377.1 1961,325 1964.7,307 1968,313 1971.3,321.6 1977.9,326.9 1980,327.6 2026,345 2230,355.4 2478.6,364.8" fill="none" stroke="#de2000" stroke-width="4.8" stroke-linejoin="round"/>
<polyline points="1452.1,90.3 1452.12,92.49 1452.15,95.63 1452.18,99.23 1452.23,102.85 1452.3,106 1452.39,108.6 1452.5,110.97 1452.62,113.23 1452.75,115.53 1452.9,118 1453.06,120.69 1453.22,123.5 1453.4,126.38 1453.6,129.23 1453.8,132 1454.02,134.68 1454.25,137.32 1454.49,139.93 1454.74,142.49 1455,145 1455.25,147.38 1455.5,149.63 1455.77,151.88 1456.06,154.26 1456.4,156.9 1456.78,159.9 1457.18,163.18 1457.63,166.58 1458.13,169.94 1458.7,173.1 1459.35,176.06 1460.06,178.93 1460.83,181.71 1461.65,184.4 1462.5,187 1463.35,189.46 1464.19,191.76 1465.1,194.01 1466.15,196.29 1467.4,198.7 1468.93,201.3 1470.68,204.04 1472.56,206.8 1474.47,209.49 1476.3,212 1478.04,214.3 1479.74,216.47 1481.45,218.54 1483.19,220.53 1485,222.5 1486.83,224.41 1488.65,226.25 1490.54,228.04 1492.57,229.82 1494.8,231.6 1497.34,233.43 1500.15,235.3 1503.06,237.14 1505.93,238.89 1508.6,240.5 1511.02,241.94 1513.28,243.24 1515.48,244.45 1517.69,245.62 1520,246.8 1522.37,247.97 1524.75,249.1 1527.19,250.22 1529.72,251.34 1532.4,252.5 1535.31,253.72 1538.41,255 1541.59,256.28 1544.69,257.5 1547.6,258.6 1550.25,259.57 1552.72,260.44 1555.12,261.25 1557.51,262.02 1560,262.8 1562.55,263.57 1565.11,264.31 1567.71,265.04 1570.39,265.76 1573.2,266.5 1576.22,267.26 1579.43,268.04 1582.69,268.82 1585.86,269.58 1588.8,270.3 1591.43,270.98 1593.84,271.63 1596.15,272.26 1598.5,272.88 1601,273.5 1603.66,274.13 1606.38,274.76 1609.18,275.38 1612.06,275.99 1615,276.6 1618.1,277.2 1621.36,277.8 1624.65,278.39 1627.84,278.96 1630.8,279.5 1633.44,280 1635.83,280.46 1638.13,280.9 1640.48,281.34 1643,281.8 1645.72,282.27 1648.54,282.75 1651.45,283.23 1654.41,283.71 1657.4,284.2 1660.48,284.7 1663.68,285.22 1666.89,285.74 1670.03,286.24 1673,286.7 1675.76,287.12 1678.36,287.5 1680.88,287.87 1683.4,288.23 1686,288.6 1688.64,288.97 1691.28,289.34 1693.95,289.71 1696.71,290.09 1699.6,290.5 1702.72,290.95 1706.04,291.43 1709.41,291.92 1712.68,292.38 1715.7,292.8 1718.37,293.15 1720.8,293.46 1723.12,293.74 1725.47,294.01 1728,294.3 1730.7,294.59 1733.48,294.87 1736.35,295.16 1739.29,295.46 1742.3,295.8 1745.48,296.19 1748.82,296.63 1752.2,297.07 1755.47,297.51 1758.5,297.9 1761.21,298.24 1763.69,298.55 1766.07,298.84 1768.46,299.12 1771,299.4 1773.67,299.67 1776.39,299.92 1779.17,300.17 1782.04,300.42 1785,300.7 1788.14,301 1791.44,301.33 1794.79,301.66 1798.08,301.99 1801.2,302.3 1804.13,302.59 1806.94,302.88 1809.67,303.16 1812.34,303.43 1815,303.7 1817.59,303.97 1820.08,304.23 1822.56,304.49 1825.1,304.75 1827.8,305 1830.66,305.24 1833.62,305.47 1836.68,305.7 1839.81,305.94 1843,306.2 1846.24,306.49 1849.53,306.8 1852.9,307.12 1856.38,307.45 1860,307.8 1863.81,308.17 1867.78,308.55 1871.86,308.95 1875.95,309.33 1880,309.7 1884,310.04 1888,310.37 1892,310.68 1896,310.99 1900,311.3 1904,311.61 1908,311.92 1912,312.23 1916,312.52 1920,312.8 1924,313.06 1928,313.3 1932,313.53 1936,313.76 1940,314 1944,314.25 1948,314.51 1952,314.78 1956,315.04 1960,315.3 1964,315.56 1968,315.82 1972,316.08 1976,316.34 1980,316.6 1983.68,316.84 1987.04,317.07 1990.56,317.31 1994.72,317.58 2000,317.9 2006.72,318.3 2014.56,318.75 2023.04,319.24 2031.68,319.73 2040,320.2 2048,320.64 2056,321.08 2064,321.52 2072,321.96 2080,322.4 2088,322.86 2096,323.32 2104,323.79 2112,324.25 2120,324.7 2128,325.13 2136,325.56 2144,325.98 2152,326.39 2160,326.8 2168,327.2 2176,327.6 2184,328 2192,328.4 2200,328.8 2208,329.22 2216,329.66 2224,330.09 2232,330.51 2240,330.9 2248,331.25 2256,331.58 2264,331.89 2272,332.19 2280,332.5 2288,332.8 2296,333.1 2304,333.4 2312,333.7 2320,334 2328,334.32 2336,334.64 2344,334.97 2352,335.29 2360,335.6 2368,335.89 2376,336.17 2384,336.44 2392,336.72 2400,337 2408.02,337.3 2416.07,337.6 2424.1,337.9 2432.09,338.2 2440,338.5 2448.43,338.81 2457.39,339.13 2466.01,339.45 2473.37,339.71 2478.6,339.9" fill="none" stroke="#0000ff" stroke-width="4.7" stroke-dasharray="22 5 11 5"/>
</g>
<rect x="1451.5" y="14.5" width="1027" height="548" fill="none" stroke="#262626" stroke-width="1"/>
<path d="M1554.5 562.5V552.5M1554.5 14.5V24.5M1656.5 562.5V552.5M1656.5 14.5V24.5M1759.5 562.5V552.5M1759.5 14.5V24.5M1862.5 562.5V552.5M1862.5 14.5V24.5M1965.5 562.5V552.5M1965.5 14.5V24.5M2067.5 562.5V552.5M2067.5 14.5V24.5M2170.5 562.5V552.5M2170.5 14.5V24.5M2273.5 562.5V552.5M2273.5 14.5V24.5M2375.5 562.5V552.5M2375.5 14.5V24.5M1451.5 92.5H1461.5M2478.5 92.5H2468.5M1451.5 170.5H1461.5M2478.5 170.5H2468.5M1451.5 249.5H1461.5M2478.5 249.5H2468.5M1451.5 327.5H1461.5M2478.5 327.5H2468.5M1451.5 405.5H1461.5M2478.5 405.5H2468.5M1451.5 484.5H1461.5M2478.5 484.5H2468.5" stroke="#262626" stroke-width="1" fill="none"/>
<text x="1451.5" y="593.6" font-size="22" text-anchor="middle" font-family="'Liberation Sans', Arial, sans-serif" font-weight="normal" fill="#262626">0</text>
<text x="1554.2" y="593.6" font-size="22" text-anchor="middle" font-family="'Liberation Sans', Arial, sans-serif" font-weight="normal" fill="#262626">1</text>
<text x="1656.9" y="593.6" font-size="22" text-anchor="middle" font-family="'Liberation Sans', Arial, sans-serif" font-weight="normal" fill="#262626">2</text>
<text x="1759.6" y="593.6" font-size="22" text-anchor="middle" font-family="'Liberation Sans', Arial, sans-serif" font-weight="normal" fill="#262626">3</text>
<text x="1862.3" y="593.6" font-size="22" text-anchor="middle" font-family="'Liberation Sans', Arial, sans-serif" font-weight="normal" fill="#262626">4</text>
<text x="1965" y="593.6" font-size="22" text-anchor="middle" font-family="'Liberation Sans', Arial, sans-serif" font-weight="normal" fill="#262626">5</text>
<text x="2067.7" y="593.6" font-size="22" text-anchor="middle" font-family="'Liberation Sans', Arial, sans-serif" font-weight="normal" fill="#262626">6</text>
<text x="2170.4" y="593.6" font-size="22" text-anchor="middle" font-family="'Liberation Sans', Arial, sans-serif" font-weight="normal" fill="#262626">7</text>
<text x="2273.1" y="593.6" font-size="22" text-anchor="middle" font-family="'Liberation Sans', Arial, sans-serif" font-weight="normal" fill="#262626">8</text>
<text x="2375.8" y="593.6" font-size="22" text-anchor="middle" font-family="'Liberation Sans', Arial, sans-serif" font-weight="normal" fill="#262626">9</text>
<text x="2478.5" y="593.6" font-size="22" text-anchor="middle" font-family="'Liberation Sans', Arial, sans-serif" font-weight="normal" fill="#262626">10</text>
<text x="1441.8" y="23.6" font-size="22" text-anchor="end" font-family="'Liberation Sans', Arial, sans-serif" font-weight="normal" fill="#262626">-90</text>
<text x="1441.8" y="101.93" font-size="22" text-anchor="end" font-family="'Liberation Sans', Arial, sans-serif" font-weight="normal" fill="#262626">-100</text>
<text x="1441.8" y="180.26" font-size="22" text-anchor="end" font-family="'Liberation Sans', Arial, sans-serif" font-weight="normal" fill="#262626">-110</text>
<text x="1441.8" y="258.59" font-size="22" text-anchor="end" font-family="'Liberation Sans', Arial, sans-serif" font-weight="normal" fill="#262626">-120</text>
<text x="1441.8" y="336.91" font-size="22" text-anchor="end" font-family="'Liberation Sans', Arial, sans-serif" font-weight="normal" fill="#262626">-130</text>
<text x="1441.8" y="415.24" font-size="22" text-anchor="end" font-family="'Liberation Sans', Arial, sans-serif" font-weight="normal" fill="#262626">-140</text>
<text x="1441.8" y="493.57" font-size="22" text-anchor="end" font-family="'Liberation Sans', Arial, sans-serif" font-weight="normal" fill="#262626">-150</text>
<text x="1441.8" y="571.9" font-size="22" text-anchor="end" font-family="'Liberation Sans', Arial, sans-serif" font-weight="normal" fill="#262626">-160</text>
<text x="1964.8" y="627.5" font-size="26.4" text-anchor="middle" font-family="'Liberation Sans', Arial, sans-serif" font-weight="normal" fill="#262626">Time(s)</text>
<text x="1386.2" y="287.6" font-size="25.3" text-anchor="middle" font-family="'Liberation Sans', Arial, sans-serif" font-weight="normal" fill="#262626" transform="rotate(-90 1386.2 287.6)">RL(dB)</text>
<rect x="2287.5" y="29.5" width="177" height="124" fill="#fff" stroke="#262626" stroke-width="1"/>
<line x1="2292.7" y1="46.1" x2="2349.3" y2="46.1" stroke="#000" stroke-width="5.2" stroke-dasharray="22 21"/>
<line x1="2292.7" y1="76.7" x2="2349.3" y2="76.7" stroke="#f78fc6" stroke-width="5.2" stroke-dasharray="5.3 5.4"/>
<line x1="2292.7" y1="106.2" x2="2349.3" y2="106.2" stroke="#de2000" stroke-width="5.2"/>
<line x1="2292.7" y1="136.4" x2="2349.3" y2="136.4" stroke="#0000ff" stroke-width="5" stroke-dasharray="22 5 11 5"/>
<text x="2354" y="55.4" font-size="22" text-anchor="start" font-family="'Liberation Sans', Arial, sans-serif" font-weight="normal" fill="#000">NIW3km</text>
<text x="2354" y="85.2" font-size="22" text-anchor="start" font-family="'Liberation Sans', Arial, sans-serif" font-weight="normal" fill="#000">NIW3.2km</text>
<text x="2354" y="115.1" font-size="22" text-anchor="start" font-family="'Liberation Sans', Arial, sans-serif" font-weight="normal" fill="#000">NIW3.5km</text>
<text x="2354" y="144.9" font-size="22" text-anchor="start" font-family="'Liberation Sans', Arial, sans-serif" font-weight="normal" fill="#000">No NIW</text>
<defs><clipPath id="clipC"><rect x="82.5" y="759.9" width="1053.2" height="547.1"/></clipPath></defs>
<g clip-path="url(#clipC)">
<polyline points="85.5,1036 86.5,1039.7 92.4,1073.6 97.9,1049.5 102.1,1066.4 108.7,1097.4 113.2,1032.2 118.4,1011 124,1070.3 129.5,1070.3 134.7,1003.9 140.3,993.1 145.8,1007.8 150,936.1 155.6,860.6 160.8,849.8 166.3,885.6 171.9,953.1 177.7,931.2 182.6,879.1 187.5,877.5 193.4,906.2 197.9,937.8 203.1,901.9 208.7,878.1 213.5,879.1 218.4,914.9 223.3,952.4 229.2,962.2 234.7,950.8 239.6,931.2 245.5,923.7 250,906.8 255.9,918.2 260.8,949.2 266.3,1025.7 271.5,998 276.4,937.8 282,936.1 287.5,953.1 292.3,912 297.2,869.3 302.4,871 307.9,902.9 313.5,900.3 318.7,848.2 324.2,823.7 329.1,833.5 335,824.7 339.5,796.1 344.7,784.7 350.3,814 355.1,857.9 361,854.7 365.6,817.2 371.4,802.6 377.3,796.1 382.8,789.5 387.7,788.9 392.6,792.1 397.5,802.6 403.4,810.7 408.9,822.1 413.8,838.4 418.7,874.2 423.6,936.1 428.4,968 433.3,958.9 439.8,999.6 444.7,1166.7 449.6,1032.2 455.5,1000.6 461,1053.4 465.9,1235.8 470.8,1012.7 476.3,957.3 482.2,955.7 487.1,965.4 493.6,985 498.5,1027.3 502.6,1079.4 507.2,1059.3 513,1136.4 518.9,1108.8 523.5,965.4 528.7,915 534.2,937.8 539.1,1048.5 545,1009.4 549.5,916.6 555.4,891.2 560.3,906.8 565.8,910.1 571,880.7 576.5,870.3 582.1,875.9 587.3,900.3 592.8,934.5 597.7,950.8 602.6,962.8 608.1,956.3 613.4,954 617.9,941 623.1,926.4 628.7,916 634.2,923.1 639.4,955.7 645,986.6 649.2,939.4 654.7,867.7 660.3,855.3 666.1,882.4 671,947.5 675.9,936.8 681.8,915.9 687.3,908.4 692.2,958.9 697.1,929.6 702.6,859.6 707.8,827 713.4,830.3 718.1,849.8 723,854 727.9,840 733.5,817.2 739.3,811.7 745.2,804.2 750.7,802.6 755.6,802.2 760.5,801.9 767,806.5 771.2,823.7 775.8,851.4 781,828.6 785.6,802.6 792.1,796.1 797.3,806.5 802.8,808.4 807.7,803.2 813.6,825.4 818.1,890.5 823.4,988.2 828.9,971.9 834.4,955 838.9,1024.7 844.6,1258.4 849.3,1062.7 855,1014.2 860.2,1090.8 866.4,1078.8 871.2,1012.9 875.9,1042.7 881.6,1039.9 886.5,991.5 892.4,960.6 898.3,983.4 902.2,1021.5 907.4,1016 913.8,1040 918.3,1169.1 923.3,1090.8 928.1,962.2 933.7,906.8 938.9,906.8 943.5,944.3 949.3,960.6 954.2,915 959.7,895.4 965.6,918.2 970.5,949.8 975.4,910.1 980.3,874.9 985.8,874.9 991.7,888.9 997.5,915 1003.1,958.9 1007.3,1053.4 1013.8,1041 1017.7,985 1023.6,962.8 1028.1,989.9 1034,1061.5 1039.9,1011 1044.4,916.6 1049.6,862.8 1054.2,850.8 1060.1,861.9 1065.9,874.2 1070.5,870.3 1076.4,874.9 1081.2,892.1 1086.8,898.7 1092,893.8 1096.5,887.9 1102.4,901.9 1108.3,888.9 1112.8,849.8 1118,812.3 1123.6,802.6 1129.1,810.7 1135.7,827.5" fill="none" stroke="#0000ff" stroke-width="5" stroke-linejoin="round"/>
</g>
<rect x="85.5" y="759.5" width="1050" height="548" fill="none" stroke="#262626" stroke-width="1"/>
<path d="M186.5 1307.5V1297.5M186.5 759.5V769.5M292.5 1307.5V1297.5M292.5 759.5V769.5M397.5 1307.5V1297.5M397.5 759.5V769.5M502.5 1307.5V1297.5M502.5 759.5V769.5M607.5 1307.5V1297.5M607.5 759.5V769.5M712.5 1307.5V1297.5M712.5 759.5V769.5M818.5 1307.5V1297.5M818.5 759.5V769.5M923.5 1307.5V1297.5M923.5 759.5V769.5M1028.5 1307.5V1297.5M1028.5 759.5V769.5M1133.5 1307.5V1297.5M1133.5 759.5V769.5M85.5 850.5H95.5M1135.5 850.5H1125.5M85.5 942.5H95.5M1135.5 942.5H1125.5M85.5 1033.5H95.5M1135.5 1033.5H1125.5M85.5 1124.5H95.5M1135.5 1124.5H1125.5M85.5 1215.5H95.5M1135.5 1215.5H1125.5" stroke="#262626" stroke-width="1" fill="none"/>
<text x="186.8" y="1337.8" font-size="21.3" text-anchor="middle" font-family="'Liberation Sans', Arial, sans-serif" font-weight="normal" fill="#262626">3000</text>
<text x="292" y="1337.8" font-size="21.3" text-anchor="middle" font-family="'Liberation Sans', Arial, sans-serif" font-weight="normal" fill="#262626">3100</text>
<text x="397.2" y="1337.8" font-size="21.3" text-anchor="middle" font-family="'Liberation Sans', Arial, sans-serif" font-weight="normal" fill="#262626">3200</text>
<text x="502.4" y="1337.8" font-size="21.3" text-anchor="middle" font-family="'Liberation Sans', Arial, sans-serif" font-weight="normal" fill="#262626">3300</text>
<text x="607.6" y="1337.8" font-size="21.3" text-anchor="middle" font-family="'Liberation Sans', Arial, sans-serif" font-weight="normal" fill="#262626">3400</text>
<text x="712.8" y="1337.8" font-size="21.3" text-anchor="middle" font-family="'Liberation Sans', Arial, sans-serif" font-weight="normal" fill="#262626">3500</text>
<text x="818" y="1337.8" font-size="21.3" text-anchor="middle" font-family="'Liberation Sans', Arial, sans-serif" font-weight="normal" fill="#262626">3600</text>
<text x="923.2" y="1337.8" font-size="21.3" text-anchor="middle" font-family="'Liberation Sans', Arial, sans-serif" font-weight="normal" fill="#262626">3700</text>
<text x="1028.4" y="1337.8" font-size="21.3" text-anchor="middle" font-family="'Liberation Sans', Arial, sans-serif" font-weight="normal" fill="#262626">3800</text>
<text x="1133.6" y="1337.8" font-size="21.3" text-anchor="middle" font-family="'Liberation Sans', Arial, sans-serif" font-weight="normal" fill="#262626">3900</text>
<text x="75.2" y="768.58" font-size="21.3" text-anchor="end" font-family="'Liberation Sans', Arial, sans-serif" font-weight="normal" fill="#262626">5</text>
<text x="75.2" y="859.8" font-size="21.3" text-anchor="end" font-family="'Liberation Sans', Arial, sans-serif" font-weight="normal" fill="#262626">0</text>
<text x="75.2" y="951.02" font-size="21.3" text-anchor="end" font-family="'Liberation Sans', Arial, sans-serif" font-weight="normal" fill="#262626">-5</text>
<text x="75.2" y="1042.24" font-size="21.3" text-anchor="end" font-family="'Liberation Sans', Arial, sans-serif" font-weight="normal" fill="#262626">-10</text>
<text x="75.2" y="1133.46" font-size="21.3" text-anchor="end" font-family="'Liberation Sans', Arial, sans-serif" font-weight="normal" fill="#262626">-15</text>
<text x="75.2" y="1224.68" font-size="21.3" text-anchor="end" font-family="'Liberation Sans', Arial, sans-serif" font-weight="normal" fill="#262626">-20</text>
<text x="75.2" y="1315.9" font-size="21.3" text-anchor="end" font-family="'Liberation Sans', Arial, sans-serif" font-weight="normal" fill="#262626">-25</text>
<text x="611.1" y="1367.4" font-size="21.3" text-anchor="middle" font-family="'Liberation Sans', Arial, sans-serif" font-weight="normal" fill="#262626">Range from the NIW to the source(m)</text>
<text x="35" y="1055.8" font-size="21.3" text-anchor="start" font-family="'Liberation Sans', Arial, sans-serif" font-weight="normal" fill="#262626" transform="rotate(-90 35 1055.8)">RL(dB)</text>
<text x="0" y="0" font-size="21.3" font-family="'Liberation Sans', Arial, sans-serif" fill="#262626" transform="translate(35 1078.7) rotate(-90) scale(1.22 1)">Δ</text>
<line x1="1576.5" y1="802.2" x2="1468.27" y2="794.72" stroke="#1a1a1a" stroke-width="1.1"/>
<polygon points="1454.9,793.8 1472.92,788.33 1468.27,794.72 1472,801.7" fill="#000"/>
<line x1="1598.3" y1="901.5" x2="1520.6" y2="931.48" stroke="#1a1a1a" stroke-width="1.1"/>
<polygon points="1508.1,936.3 1522.11,923.71 1520.6,931.48 1526.93,936.22" fill="#000"/>
<line x1="1746.8" y1="1044.5" x2="1647.08" y2="1019.02" stroke="#1a1a1a" stroke-width="1.1"/>
<polygon points="1634.1,1015.7 1652.81,1013.57 1647.08,1019.02 1649.49,1026.55" fill="#000"/>
<line x1="1512.3" y1="1246.6" x2="1481.62" y2="1034.96" stroke="#333" stroke-width="0.9"/>
<polygon points="1479.7,1021.7 1488.86,1038.16 1481.62,1034.96 1475.59,1040.08" fill="#000"/>
<polyline points="1425.8,1029.57 1443.9,793.42 1462.01,1242.12 1480.11,983.48 1498.21,947.36 1516.32,1066.17 1534.42,1168.07 1552.52,1206.01 1570.63,1197.01 1588.73,1239.69 1606.83,1303.41 1624.94,1024.34 1643.04,1262.43 1661.14,1265.35 1679.25,1185.58 1697.35,1227.65 1715.46,1197.01 1733.56,1277.75 1751.66,1270.09 1769.77,1284.44 1787.87,1278.72 1805.97,1125.63 1824.08,1283.34 1842.18,1246.38 1860.28,1232.03 1878.39,1274.47 1896.49,1201.63 1914.59,1276.41 1932.7,1265.35 1950.8,1215.98 1968.9,1276.78 1987.01,1276.78 2005.11,1218.78 2023.21,1285.29 2041.32,1303.41 2059.42,1263.52 2077.52,1241.64 2095.63,1235.92 2113.73,1252.94 2131.83,1221.69 2149.94,1190.81 2168.04,1283.34 2186.14,1247.23 2204.25,1233.98 2222.35,1235.92 2240.46,1229.23 2258.56,1256.84 2276.66,1258.66 2294.77,1228.26 2312.87,1294.78 2330.97,1290.15 2349.08,1215.98 2367.18,1287.84 2385.28,1252.34 2403.39,1215.98 2421.49,1266.93 2439.59,1238.72 2457.7,1256.84 2475.8,1250.51" fill="none" stroke="#0000ff" stroke-width="4.7" stroke-linejoin="round"/>
<g fill="#0000ff"><circle cx="1425.8" cy="1029.57" r="7"/><circle cx="1443.9" cy="793.42" r="7"/><circle cx="1462.01" cy="1242.12" r="7"/><circle cx="1480.11" cy="983.48" r="7"/><circle cx="1498.21" cy="947.36" r="7"/><circle cx="1516.32" cy="1066.17" r="7"/><circle cx="1534.42" cy="1168.07" r="7"/><circle cx="1552.52" cy="1206.01" r="7"/><circle cx="1570.63" cy="1197.01" r="7"/><circle cx="1588.73" cy="1239.69" r="7"/><circle cx="1606.83" cy="1303.41" r="7"/><circle cx="1624.94" cy="1024.34" r="7"/><circle cx="1643.04" cy="1262.43" r="7"/><circle cx="1661.14" cy="1265.35" r="7"/><circle cx="1679.25" cy="1185.58" r="7"/><circle cx="1697.35" cy="1227.65" r="7"/><circle cx="1715.46" cy="1197.01" r="7"/><circle cx="1733.56" cy="1277.75" r="7"/><circle cx="1751.66" cy="1270.09" r="7"/><circle cx="1769.77" cy="1284.44" r="7"/><circle cx="1787.87" cy="1278.72" r="7"/><circle cx="1805.97" cy="1125.63" r="7"/><circle cx="1824.08" cy="1283.34" r="7"/><circle cx="1842.18" cy="1246.38" r="7"/><circle cx="1860.28" cy="1232.03" r="7"/><circle cx="1878.39" cy="1274.47" r="7"/><circle cx="1896.49" cy="1201.63" r="7"/><circle cx="1914.59" cy="1276.41" r="7"/><circle cx="1932.7" cy="1265.35" r="7"/><circle cx="1950.8" cy="1215.98" r="7"/><circle cx="1968.9" cy="1276.78" r="7"/><circle cx="1987.01" cy="1276.78" r="7"/><circle cx="2005.11" cy="1218.78" r="7"/><circle cx="2023.21" cy="1285.29" r="7"/><circle cx="2041.32" cy="1303.41" r="7"/><circle cx="2059.42" cy="1263.52" r="7"/><circle cx="2077.52" cy="1241.64" r="7"/><circle cx="2095.63" cy="1235.92" r="7"/><circle cx="2113.73" cy="1252.94" r="7"/><circle cx="2131.83" cy="1221.69" r="7"/><circle cx="2149.94" cy="1190.81" r="7"/><circle cx="2168.04" cy="1283.34" r="7"/><circle cx="2186.14" cy="1247.23" r="7"/><circle cx="2204.25" cy="1233.98" r="7"/><circle cx="2222.35" cy="1235.92" r="7"/><circle cx="2240.46" cy="1229.23" r="7"/><circle cx="2258.56" cy="1256.84" r="7"/><circle cx="2276.66" cy="1258.66" r="7"/><circle cx="2294.77" cy="1228.26" r="7"/><circle cx="2312.87" cy="1294.78" r="7"/><circle cx="2330.97" cy="1290.15" r="7"/><circle cx="2349.08" cy="1215.98" r="7"/><circle cx="2367.18" cy="1287.84" r="7"/><circle cx="2385.28" cy="1252.34" r="7"/><circle cx="2403.39" cy="1215.98" r="7"/><circle cx="2421.49" cy="1266.93" r="7"/><circle cx="2439.59" cy="1238.72" r="7"/><circle cx="2457.7" cy="1256.84" r="7"/><circle cx="2475.8" cy="1250.51" r="7"/></g>
<text x="1577.2" y="811.7" font-size="25" text-anchor="start" font-family="'Liberation Sans', Arial, sans-serif" font-weight="normal" fill="#000">m-n=2</text>
<text x="1599.2" y="911" font-size="25" text-anchor="start" font-family="'Liberation Sans', Arial, sans-serif" font-weight="normal" fill="#000">m-n=4</text>
<text x="1747" y="1053.8" font-size="25" text-anchor="start" font-family="'Liberation Sans', Arial, sans-serif" font-weight="normal" fill="#000">m-n=9</text>
<text x="1477" y="1273.2" font-size="25" text-anchor="start" font-family="'Liberation Sans', Arial, sans-serif" font-weight="normal" fill="#000">m-n=3</text>
<rect x="1425.5" y="760.5" width="1050" height="547" fill="none" stroke="#262626" stroke-width="1"/>
<path d="M1570.5 1307.5V1297.5M1570.5 760.5V770.5M1751.5 1307.5V1297.5M1751.5 760.5V770.5M1932.5 1307.5V1297.5M1932.5 760.5V770.5M2113.5 1307.5V1297.5M2113.5 760.5V770.5M2294.5 1307.5V1297.5M2294.5 760.5V770.5M1425.5 1246.5H1435.5M2475.5 1246.5H2465.5M1425.5 1185.5H1435.5M2475.5 1185.5H2465.5M1425.5 1124.5H1435.5M2475.5 1124.5H2465.5M1425.5 1064.5H1435.5M2475.5 1064.5H2465.5M1425.5 1003.5H1435.5M2475.5 1003.5H2465.5M1425.5 942.5H1435.5M2475.5 942.5H2465.5M1425.5 881.5H1435.5M2475.5 881.5H2465.5M1425.5 820.5H1435.5M2475.5 820.5H2465.5" stroke="#262626" stroke-width="1" fill="none"/>
<text x="1570.63" y="1338.4" font-size="21.3" text-anchor="middle" font-family="'Liberation Sans', Arial, sans-serif" font-weight="normal" fill="#262626">0.005</text>
<text x="1751.66" y="1338.4" font-size="21.3" text-anchor="middle" font-family="'Liberation Sans', Arial, sans-serif" font-weight="normal" fill="#262626">0.01</text>
<text x="1932.7" y="1338.4" font-size="21.3" text-anchor="middle" font-family="'Liberation Sans', Arial, sans-serif" font-weight="normal" fill="#262626">0.015</text>
<text x="2113.73" y="1338.4" font-size="21.3" text-anchor="middle" font-family="'Liberation Sans', Arial, sans-serif" font-weight="normal" fill="#262626">0.02</text>
<text x="2294.77" y="1338.4" font-size="21.3" text-anchor="middle" font-family="'Liberation Sans', Arial, sans-serif" font-weight="normal" fill="#262626">0.025</text>
<text x="2475.8" y="1338.4" font-size="21.3" text-anchor="middle" font-family="'Liberation Sans', Arial, sans-serif" font-weight="normal" fill="#262626">0.03</text>
<text x="1415.6" y="1316.2" font-size="21.3" text-anchor="end" font-family="'Liberation Sans', Arial, sans-serif" font-weight="normal" fill="#262626">0</text>
<text x="1415.6" y="1255.4" font-size="21.3" text-anchor="end" font-family="'Liberation Sans', Arial, sans-serif" font-weight="normal" fill="#262626">0.05</text>
<text x="1415.6" y="1194.6" font-size="21.3" text-anchor="end" font-family="'Liberation Sans', Arial, sans-serif" font-weight="normal" fill="#262626">0.1</text>
<text x="1415.6" y="1133.8" font-size="21.3" text-anchor="end" font-family="'Liberation Sans', Arial, sans-serif" font-weight="normal" fill="#262626">0.15</text>
<text x="1415.6" y="1073" font-size="21.3" text-anchor="end" font-family="'Liberation Sans', Arial, sans-serif" font-weight="normal" fill="#262626">0.2</text>
<text x="1415.6" y="1012.2" font-size="21.3" text-anchor="end" font-family="'Liberation Sans', Arial, sans-serif" font-weight="normal" fill="#262626">0.25</text>
<text x="1415.6" y="951.4" font-size="21.3" text-anchor="end" font-family="'Liberation Sans', Arial, sans-serif" font-weight="normal" fill="#262626">0.3</text>
<text x="1415.6" y="890.6" font-size="21.3" text-anchor="end" font-family="'Liberation Sans', Arial, sans-serif" font-weight="normal" fill="#262626">0.35</text>
<text x="1415.6" y="829.8" font-size="21.3" text-anchor="end" font-family="'Liberation Sans', Arial, sans-serif" font-weight="normal" fill="#262626">0.4</text>
<text x="1415.6" y="769" font-size="21.3" text-anchor="end" font-family="'Liberation Sans', Arial, sans-serif" font-weight="normal" fill="#262626">0.45</text>
<text x="1950.8" y="1371.6" font-size="25" text-anchor="middle" font-family="'Liberation Sans', Arial, sans-serif" font-weight="normal" fill="#262626">Frequency(Hz)</text>
<text x="1363.4" y="1033.6" font-size="24.8" text-anchor="middle" font-family="'Liberation Sans', Arial, sans-serif" font-weight="normal" fill="#262626" transform="rotate(-90 1363.4 1033.6)">Normalized Amplitude (a.u.)</text>
<text x="504.7" y="698.5" font-size="54" text-anchor="start" font-family="'Liberation Serif', 'Times New Roman', serif" font-weight="bold" fill="#000">(A)</text>
<text x="1917.8" y="698.5" font-size="54" text-anchor="start" font-family="'Liberation Serif', 'Times New Roman', serif" font-weight="bold" fill="#000">(B)</text>
<text x="504.7" y="1458" font-size="54" text-anchor="start" font-family="'Liberation Serif', 'Times New Roman', serif" font-weight="bold" fill="#000">(C)</text>
<text x="1917.6" y="1458" font-size="54" text-anchor="start" font-family="'Liberation Serif', 'Times New Roman', serif" font-weight="bold" fill="#000">(D)</text>
</svg></body></html>
